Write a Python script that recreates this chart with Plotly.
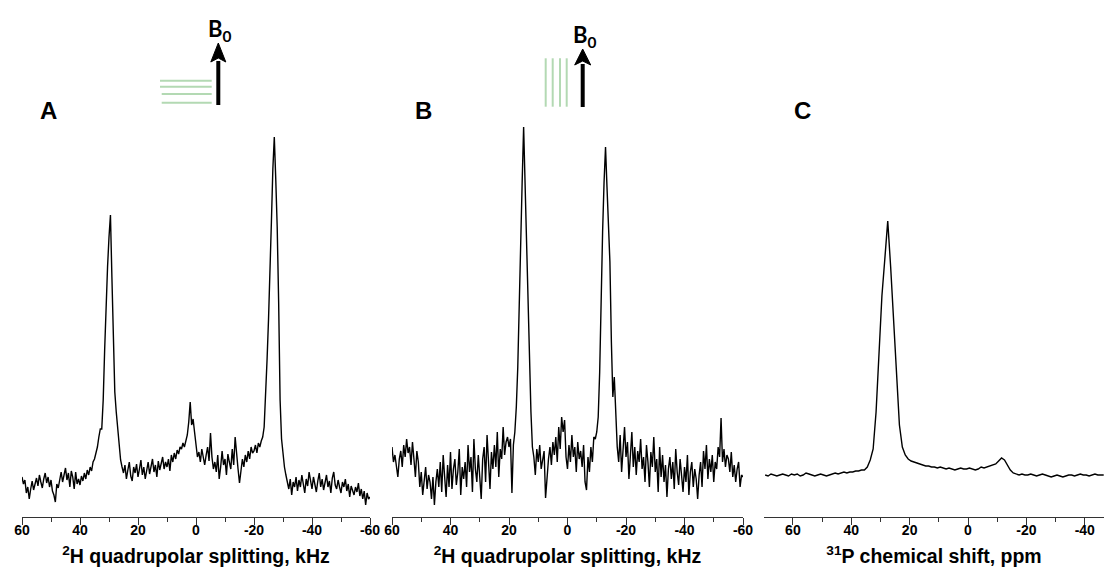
import numpy as np
import plotly.graph_objects as go

# ---------------- data ----------------
# Panel A: 2H spectrum, 0.5 kHz steps from +60 to -60 kHz
A_START, A_STOP = 60.0, -60.0
A_INTENSITY = [
    40, 33, 37, 24, 30, 18, 28, 36, 27, 33,
    39, 31, 42, 35, 29, 38, 44, 34, 40, 30,
    37, 26, 22, 15, 33, 29, 38, 45, 35, 41,
    49, 37, 44, 30, 46, 40, 28, 45, 33, 38,
    32, 41, 36, 44, 38, 47, 42, 50, 46, 55,
    58, 64, 70, 80, 88, 88, 117, 167, 217, 250,
    280, 302, 240, 185, 125, 105, 86, 68, 57, 50,
    44, 52, 38, 47, 55, 41, 36, 50, 44, 53,
    40, 48, 57, 42, 50, 38, 46, 55, 43, 49,
    58, 45, 52, 40, 56, 47, 53, 60, 48, 55,
    50, 58, 46, 62, 55, 64, 58, 67, 63, 70,
    68, 74, 70, 78, 82, 95, 115, 92, 98, 85,
    72, 60, 65, 55, 68, 58, 52, 62, 70, 56,
    84, 60, 48, 55, 45, 62, 38, 50, 66, 52,
    58, 42, 63, 55, 48, 68, 52, 80, 60, 48,
    34, 45, 58, 50, 62, 55, 66, 58, 70, 64,
    66, 72, 64, 74, 70, 76, 80, 90, 117, 157,
    197, 237, 295, 348, 380, 338, 290, 215, 117, 78,
    60, 50, 42, 36, 28, 38, 22, 35, 30, 40,
    26, 37, 30, 42, 33, 24, 38, 31, 45, 35,
    28, 40, 33, 25, 36, 44, 30, 38, 27, 35,
    42, 30, 36, 24, 39, 45, 32, 28, 37, 30,
    24, 35, 30, 38, 26, 33, 20, 31, 27, 22,
    30, 25, 34, 21, 28, 18, 26, 12, 24, 18,
    20,
]

# Panel B: 2H spectrum, 0.5 kHz steps from +60 to -60 kHz
B_START, B_STOP = 60.0, -60.0
B_INTENSITY = [
    70, 55, 62, 48, 40, 58, 66, 50, 72, 60,
    78, 64, 70, 52, 75, 58, 40, 66, 55, 30,
    45, 22, 38, 50, 28, 42, 35, 18, 40, 12,
    35, 48, 30, 55, 25, 62, 40, 20, 52, 30,
    65, 28, 48, 58, 32, 45, 68, 22, 50, 38,
    55, 30, 72, 45, 60, 25, 78, 48, 35, 62,
    40, 18, 58, 70, 35, 82, 55, 28, 65, 48,
    72, 50, 85, 40, 68, 58, 90, 62, 75, 80,
    70, 78, 24, 72, 85, 110, 150, 220, 278, 335,
    390, 330, 267, 210, 150, 105, 70, 60, 42, 68,
    55, 72, 48, 60, 66, 19, 45, 58, 70, 52,
    75, 62, 80, 55, 90, 68, 100, 85, 97, 60,
    48, 72, 55, 82, 60, 70, 45, 75, 58, 66,
    50, 72, 35, 27, 60, 45, 70, 55, 80, 78,
    85, 100, 145, 225, 285, 335, 370, 330, 295, 255,
    175, 120, 140, 95, 70, 55, 82, 45, 68, 90,
    60, 75, 38, 62, 85, 50, 70, 42, 66, 55,
    78, 48, 60, 35, 72, 55, 30, 65, 50, 80,
    45, 58, 25, 70, 40, 62, 35, 52, 20, 48,
    60, 38, 55, 28, 68, 45, 32, 58, 40, 25,
    50, 35, 62, 22, 45, 55, 30, 48, 38, 18,
    42, 55, 30, 66, 48, 72, 38, 58, 45, 62,
    35, 55, 48, 70, 60, 99, 55, 68, 50, 62,
    58, 45, 65, 40, 52, 35, 48, 55, 30, 42,
    40,
]

# Panel C: 31P spectrum, 1 ppm steps from 69.5 to -46.5 ppm
C_START, C_STOP = 69.5, -46.5
C_INTENSITY = [
    42, 41, 43, 42, 41, 42, 43, 42, 41, 43,
    42, 43, 41, 42, 44, 43, 42, 41, 42, 43,
    42, 41, 42, 43, 44, 43, 44, 45, 44, 45,
    45, 46, 46, 47, 47, 50, 57, 68, 105, 164,
    221, 258, 296, 250, 198, 136, 92, 70, 62, 58,
    56, 55, 54, 53, 52, 51, 51, 50, 50, 49,
    50, 49, 48, 49, 48, 47, 48, 49, 48, 48,
    49, 48, 47, 48, 50, 49, 50, 51, 52, 53,
    56, 59, 57, 52, 47, 44, 43, 42, 43, 42,
    42, 43, 42, 41, 42, 43, 42, 41, 40, 41,
    42, 41, 40, 41, 42, 42, 41, 42, 43, 42,
    42, 41, 42, 43, 42, 42, 42,
]

AB_TICKS = [60, 40, 20, 0, -20, -40, -60]
C_TICKS = [60, 40, 20, 0, -20, -40]
PANEL_LABELS = ["A", "B", "C"]
AB_TITLE = "<sup>2</sup>H quadrupolar splitting, kHz"
C_TITLE = "<sup>31</sup>P chemical shift, ppm"

# ---------------- layout helpers ----------------
W, H = 1104, 579
TOP, BOTTOM = 100, 517          # plot area in pixels
PLOT_H = BOTTOM - TOP


def px(xp):
    return xp / W


def py(yp):
    return (BOTTOM - yp) / PLOT_H


fig = go.Figure()
for i, (start, stop, vals) in enumerate([
        (A_START, A_STOP, A_INTENSITY),
        (B_START, B_STOP, B_INTENSITY),
        (C_START, C_STOP, C_INTENSITY)]):
    xs = np.linspace(start, stop, len(vals))
    sfx = "" if i == 0 else str(i + 1)
    fig.add_trace(go.Scatter(
        x=xs, y=vals, mode="lines",
        line=dict(color="black", width=1.4),
        xaxis="x" + sfx, yaxis="y" + sfx, showlegend=False,
        hoverinfo="skip"))

FONT = "Liberation Sans, Arial, sans-serif"
tickfont = dict(family=FONT, size=14, color="black", weight="bold")
titlefont = dict(family=FONT, size=19.5, color="black", weight="bold")


def xaxis(domain, rng, ticks, title, anchor):
    return dict(
        domain=domain, range=rng, anchor=anchor, automargin=False,
        tickmode="array", tickvals=ticks, ticktext=[str(t) for t in ticks],
        ticks="outside", ticklen=7, tickwidth=1, tickcolor="#333",
        minor=dict(dtick=10, tick0=0, ticks="outside", ticklen=4,
                   tickwidth=1, tickcolor="#333"),
        showline=True, linecolor="#333", linewidth=1,
        showgrid=False, zeroline=False,
        tickfont=tickfont, ticklabelstandoff=-7,
        title=dict(text=title, font=titlefont, standoff=12),
    )


def yaxis(anchor):
    return dict(domain=[0, 1], range=[0, PLOT_H], visible=False,
                anchor=anchor, fixedrange=True, automargin=False)


fig.update_layout(
    template="none",
    width=W, height=H, autosize=False,
    margin=dict(l=0, r=0, t=TOP, b=H - BOTTOM, pad=0, autoexpand=False),
    paper_bgcolor="white", plot_bgcolor="white",
    xaxis=xaxis([px(22), px(370)], [60, -60], AB_TICKS, AB_TITLE, "y"),
    xaxis2=xaxis([px(392), px(743)], [60, -60], AB_TICKS, AB_TITLE, "y2"),
    xaxis3=xaxis([px(764), 1.0], [69.9, -46.6], C_TICKS, C_TITLE, "y3"),
    yaxis=yaxis("x"), yaxis2=yaxis("x2"), yaxis3=yaxis("x3"),
)

# panel letters
for lab, xp in zip(PANEL_LABELS, [48.5, 423, 802]):
    fig.add_annotation(
        x=px(xp), y=py(111), xref="paper", yref="paper", text=lab,
        showarrow=False, xanchor="center", yanchor="middle",
        font=dict(family=FONT, size=24, color="black", weight="bold"))

GREEN = "#b3d9b3"
shapes = []
# inset A: horizontal lines
for yl, x0 in zip([80.7, 86.7, 94.0, 102.7], [160, 160, 161.7, 161.7]):
    shapes.append(dict(type="line", xref="paper", yref="paper",
                       x0=px(x0), x1=px(211.7), y0=py(yl), y1=py(yl),
                       line=dict(color=GREEN, width=2)))
# inset B: vertical lines
for xl in [545.7, 552.7, 560.0, 566.7]:
    shapes.append(dict(type="line", xref="paper", yref="paper",
                       x0=px(xl), x1=px(xl), y0=py(58.3), y1=py(106.7),
                       line=dict(color=GREEN, width=2)))

# B0 arrows
for (xc, ybot, ytop, ybase, hw) in [(218.3, 105, 43, 62, 7.5),
                                     (582.7, 107, 49, 65, 8)]:
    shapes.append(dict(type="line", xref="paper", yref="paper",
                       x0=px(xc), x1=px(xc), y0=py(ybot), y1=py(ybase - 1),
                       line=dict(color="black", width=4)))
    shapes.append(dict(
        type="path", xref="paper", yref="paper",
        path=f"M {px(xc - hw)} {py(ybase)} L {px(xc)} {py(ytop)} "
             f"L {px(xc + hw)} {py(ybase)} L {px(xc)} {py(ybase - 4)} Z",
        fillcolor="black", line=dict(color="black", width=1)))
fig.update_layout(shapes=shapes)

for xp, yp in [(220, 30), (585, 36)]:
    fig.add_annotation(
        x=px(xp), y=py(yp), xref="paper", yref="paper",
        text="B<sub>0</sub>", showarrow=False,
        xanchor="center", yanchor="middle",
        font=dict(family="Lato, Open Sans, sans-serif", size=22,
                  color="black", weight="bold"))

fig.write_html(
    "out.html",
    config={"displayModeBar": False},
    post_script="document.body.style.margin='0';"
                "document.documentElement.style.overflow='hidden';")
